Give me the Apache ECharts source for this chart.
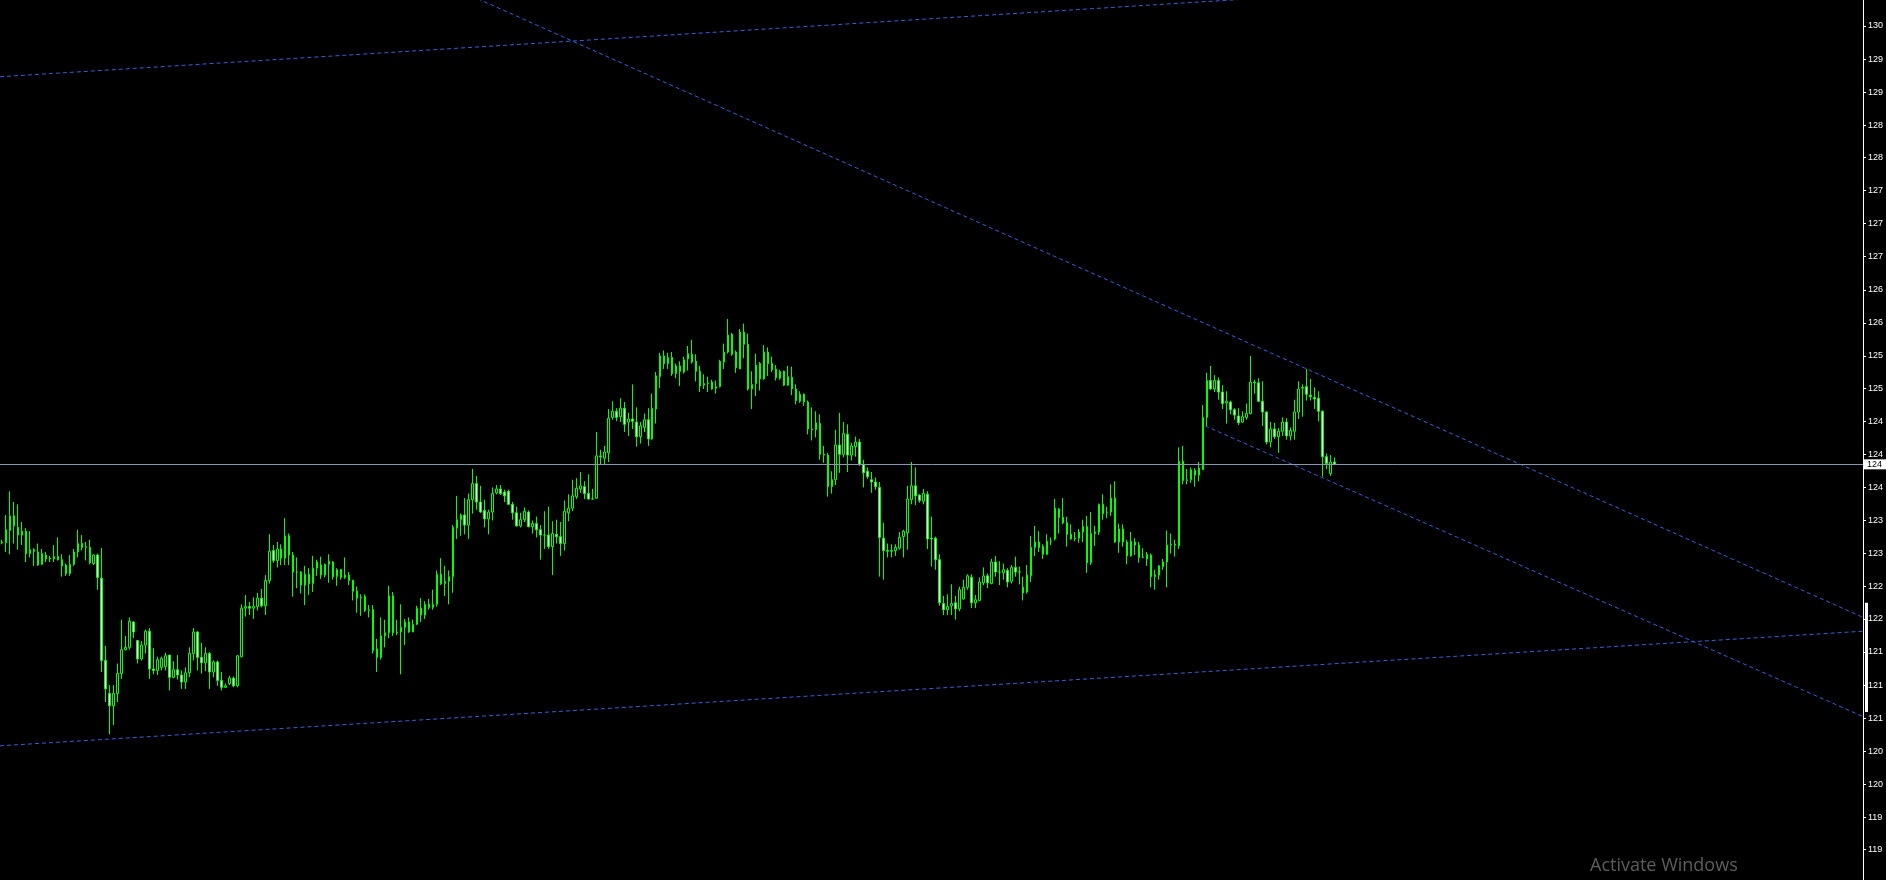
<!DOCTYPE html>
<html><head><meta charset="utf-8">
<script src="https://cdn.jsdelivr.net/npm/echarts@6/dist/echarts.min.js"></script>
<style>html,body{margin:0;padding:0;background:#000;overflow:hidden}#c{width:1886px;height:880px}</style>
</head><body><div id="c"></div>
<script>
// ---- data (bar index = position in arrays) ----
const opens = [
123.35,123.35,123.51,123.70,123.55,123.45,123.50,123.21,123.26,123.23,
123.07,123.19,123.15,123.14,123.17,123.13,123.06,122.95,123.07,123.23,
123.34,123.29,123.29,123.08,123.19,122.89,121.82,121.39,121.23,121.39,
121.65,121.96,121.99,122.32,122.08,121.84,122.02,122.20,121.71,121.69,
121.73,121.74,121.89,121.60,121.70,121.63,121.54,121.66,121.91,122.19,
121.86,121.79,121.91,121.67,121.80,121.56,121.47,121.52,121.59,121.49,
121.87,122.50,122.52,122.50,122.52,122.63,122.53,122.86,123.25,123.12,
123.27,123.15,123.44,123.19,122.97,122.97,122.80,122.94,122.82,123.02,
123.06,122.93,123.07,123.10,122.91,123.00,122.90,122.93,122.86,122.72,
122.63,122.65,122.47,122.48,121.97,121.86,122.14,122.18,122.66,122.18,
122.19,122.25,122.32,122.19,122.29,122.50,122.41,122.55,122.51,122.55,
122.94,122.82,122.85,122.91,123.54,123.65,123.71,123.58,123.91,124.12,
123.88,123.77,123.66,123.75,124.00,124.05,124.01,124.02,123.85,123.74,
123.57,123.65,123.75,123.56,123.60,123.52,123.45,123.45,123.30,123.46,
123.43,123.34,123.74,123.80,123.95,124.05,124.08,123.99,123.92,123.93,
124.48,124.45,124.52,124.98,125.06,124.99,125.10,124.92,124.96,124.92,
124.73,124.85,124.95,124.70,125.09,125.51,125.78,125.68,125.76,125.55,
125.65,125.57,125.74,125.80,125.71,125.58,125.40,125.42,125.44,125.36,
125.38,125.70,125.83,126.06,125.83,125.61,126.09,125.93,125.35,125.42,
125.68,125.48,125.83,125.68,125.61,125.49,125.58,125.40,125.50,125.35,
125.19,125.28,125.18,124.83,124.82,124.90,124.50,124.49,124.08,124.17,
124.62,124.50,124.76,124.49,124.60,124.66,124.37,124.28,124.17,124.14,
124.07,123.41,123.25,123.24,123.25,123.28,123.43,123.48,123.91,124.09,
123.97,123.89,123.98,123.41,123.41,123.13,122.56,122.48,122.53,122.57,
122.49,122.62,122.77,122.90,122.57,122.60,122.83,122.92,122.82,123.10,
122.97,122.96,122.99,122.85,123.03,122.97,122.77,122.71,122.92,123.29,
123.36,123.30,123.20,123.37,123.40,123.79,123.68,123.61,123.46,123.40,
123.41,123.49,123.56,123.09,123.47,123.49,123.85,123.74,123.75,123.93,
123.36,123.53,123.36,123.18,123.36,123.32,123.16,123.14,123.19,122.91,
122.93,123.04,123.10,123.32,123.33,123.31,124.41,124.16,124.17,124.29,
124.23,124.30,124.98,125.46,125.35,125.46,125.31,125.17,125.18,125.08,
125.00,124.92,124.98,125.03,125.44,125.43,125.19,125.05,124.66,124.83,
124.73,124.80,124.92,124.74,124.80,125.05,125.36,125.38,125.27,125.24,
125.23,125.06,124.47,124.25,124.40];
const closes = [
123.36,123.52,123.70,123.57,123.45,123.50,123.21,123.26,123.24,123.06,
123.21,123.14,123.14,123.17,123.13,123.05,122.95,123.07,123.23,123.34,
123.29,123.30,123.09,123.19,122.90,121.82,121.45,121.23,121.39,121.65,
121.96,121.99,122.33,122.19,121.84,122.02,122.20,121.71,121.69,121.83,
121.85,121.88,121.60,121.70,121.63,121.54,121.66,121.91,122.19,121.86,
121.79,121.91,121.67,121.80,121.56,121.47,121.49,121.59,121.49,121.88,
122.50,122.52,122.50,122.52,122.63,122.53,122.86,123.24,123.12,123.27,
123.15,123.44,123.19,122.97,122.97,122.80,122.94,122.82,123.02,123.10,
122.93,123.07,123.11,122.91,123.00,122.90,122.93,122.86,122.72,122.63,
122.64,122.47,122.48,121.95,121.86,122.14,122.18,122.66,122.18,122.19,
122.25,122.32,122.19,122.29,122.50,122.41,122.55,122.51,122.55,122.94,
122.82,122.85,122.91,123.55,123.65,123.71,123.58,123.91,124.12,123.88,
123.75,123.66,123.75,123.99,124.05,123.99,123.96,123.85,123.74,123.57,
123.65,123.76,123.56,123.60,123.52,123.45,123.45,123.30,123.47,123.43,
123.34,123.76,123.80,123.96,124.06,124.09,123.99,123.92,123.92,124.48,
124.47,124.53,124.97,125.06,124.98,125.10,124.89,124.96,124.93,124.73,
124.87,124.95,124.70,125.10,125.52,125.78,125.68,125.76,125.55,125.65,
125.58,125.73,125.81,125.70,125.58,125.39,125.42,125.43,125.35,125.38,
125.71,125.83,126.05,125.80,125.63,126.09,125.93,125.35,125.41,125.66,
125.48,125.83,125.68,125.60,125.50,125.58,125.40,125.51,125.35,125.20,
125.28,125.18,124.83,124.82,124.91,124.50,124.49,124.08,124.17,124.62,
124.50,124.77,124.49,124.61,124.66,124.37,124.26,124.21,124.14,124.08,
123.42,123.25,123.24,123.25,123.29,123.42,123.50,123.92,124.09,123.96,
123.90,123.99,123.40,123.40,123.13,122.57,122.48,122.52,122.56,122.49,
122.74,122.77,122.92,122.57,122.61,122.84,122.92,122.83,123.10,122.97,
122.97,123.00,122.84,123.03,122.97,122.97,122.70,122.93,123.29,123.36,
123.29,123.20,123.37,123.37,123.80,123.68,123.61,123.46,123.40,123.41,
123.49,123.56,123.09,123.47,123.49,123.85,123.73,123.74,123.93,123.36,
123.53,123.36,123.18,123.37,123.32,123.16,123.16,123.20,122.91,122.93,
123.05,123.10,123.32,123.33,123.32,124.41,124.16,124.17,124.30,124.23,
124.32,124.98,125.46,125.35,125.46,125.31,125.16,125.19,125.08,125.01,
124.91,124.99,125.03,125.44,125.43,125.19,125.05,124.66,124.83,124.73,
124.80,124.92,124.74,124.81,125.05,125.35,125.37,125.28,125.25,125.22,
125.06,124.47,124.38,124.40,124.37];
const lows = [
123.33,123.23,123.20,123.34,123.26,123.32,123.10,123.16,123.05,123.05,
123.06,123.10,123.10,123.10,123.12,122.91,122.92,122.92,123.05,123.16,
123.25,123.12,123.07,123.06,122.74,121.67,121.28,120.86,120.98,121.28,
121.58,121.95,121.96,122.11,121.78,121.82,121.91,121.58,121.64,121.63,
121.69,121.69,121.43,121.59,121.57,121.45,121.45,121.60,121.82,121.69,
121.65,121.68,121.45,121.60,121.49,121.43,121.46,121.50,121.47,121.47,
121.86,122.39,122.41,122.36,122.47,122.51,122.41,122.82,123.09,123.03,
123.06,123.06,123.06,122.65,122.76,122.69,122.54,122.67,122.71,122.92,
122.88,122.90,122.83,122.87,122.79,122.87,122.88,122.80,122.60,122.44,
122.40,122.45,122.38,121.91,121.67,121.83,121.99,122.11,122.14,122.15,
121.64,122.02,122.18,122.19,122.28,122.32,122.36,122.48,122.48,122.52,
122.80,122.66,122.55,122.70,123.40,123.44,123.46,123.40,123.73,123.78,
123.74,123.55,123.46,123.64,123.98,123.97,123.88,123.84,123.65,123.56,
123.55,123.62,123.55,123.47,123.42,123.13,123.27,123.27,122.93,123.34,
123.18,123.25,123.63,123.76,123.92,124.00,123.92,123.91,123.91,123.92,
124.37,124.37,124.40,124.95,124.93,124.92,124.79,124.74,124.83,124.60,
124.64,124.79,124.61,124.69,124.90,125.36,125.61,125.61,125.52,125.49,
125.39,125.55,125.59,125.68,125.45,125.31,125.35,125.31,125.34,125.29,
125.37,125.61,125.81,125.78,125.56,125.61,125.75,125.33,125.09,125.26,
125.33,125.47,125.52,125.57,125.46,125.47,125.39,125.39,125.27,125.15,
125.17,125.13,124.76,124.68,124.72,124.43,124.39,123.95,123.99,124.10,
124.26,124.46,124.27,124.42,124.47,124.35,124.07,124.18,124.00,124.04,
122.91,122.87,123.16,123.16,123.18,123.26,123.16,123.26,123.85,123.84,
123.87,123.85,123.27,123.04,123.00,122.53,122.41,122.41,122.41,122.35,
122.46,122.61,122.74,122.50,122.50,122.59,122.80,122.76,122.81,122.91,
122.80,122.87,122.77,122.82,122.91,122.81,122.60,122.69,122.84,123.18,
123.23,123.14,123.19,123.32,123.38,123.47,123.59,123.30,123.39,123.37,
123.35,123.36,122.96,123.06,123.31,123.45,123.65,123.67,123.70,123.35,
123.22,123.30,123.07,123.17,123.19,123.09,123.15,123.05,122.77,122.74,
122.87,123.00,122.77,123.21,123.17,123.27,124.11,124.11,124.13,124.08,
124.15,124.30,124.87,125.34,125.31,125.21,125.09,124.90,125.02,124.95,
124.88,124.91,124.95,125.02,125.29,125.18,124.87,124.63,124.59,124.70,
124.52,124.74,124.69,124.68,124.69,124.96,124.99,125.20,125.20,125.09,
124.93,124.21,124.31,124.22,124.36];
const highs = [
123.39,123.71,124.02,123.88,123.85,123.62,123.54,123.50,123.28,123.34,
123.27,123.23,123.18,123.32,123.42,123.20,123.08,123.19,123.27,123.52,
123.45,123.36,123.39,123.20,123.21,123.28,122.01,121.50,121.50,121.78,
122.35,122.14,122.38,122.33,122.08,122.07,122.22,122.24,121.98,121.87,
121.87,121.92,121.89,121.81,121.89,121.69,121.73,121.99,122.24,122.20,
122.05,121.99,121.93,121.82,121.82,121.67,121.52,121.62,121.61,121.89,
122.55,122.67,122.58,122.64,122.70,122.75,122.93,123.46,123.32,123.36,
123.33,123.67,123.47,123.23,123.16,122.98,123.05,123.02,123.18,123.13,
123.17,123.08,123.20,123.11,123.02,123.01,123.16,122.97,122.87,122.78,
122.68,122.68,122.54,122.54,122.10,122.38,122.35,122.79,122.71,122.35,
122.55,122.36,122.38,122.35,122.53,122.63,122.59,122.62,122.74,122.99,
123.15,123.05,122.99,123.58,123.96,123.73,123.93,123.99,124.31,124.22,
124.09,123.91,123.78,124.07,124.10,124.10,124.04,124.04,123.88,123.82,
123.74,123.81,123.77,123.64,123.69,123.58,123.76,123.82,123.63,123.65,
123.62,123.90,123.98,124.17,124.19,124.27,124.15,124.24,124.05,124.79,
124.56,124.61,125.09,125.19,125.10,125.23,125.18,125.04,125.41,125.11,
124.92,125.03,125.10,125.29,125.57,125.82,125.85,125.82,125.83,125.68,
125.71,125.77,125.91,125.99,125.80,125.65,125.54,125.51,125.47,125.46,
125.73,125.94,126.26,126.08,125.85,126.13,126.20,126.07,125.58,125.81,
125.70,125.92,125.89,125.77,125.66,125.60,125.59,125.65,125.64,125.41,
125.32,125.29,125.20,125.11,125.06,125.02,124.61,124.52,124.28,124.82,
125.04,124.92,124.89,124.65,124.73,124.70,124.43,124.33,124.27,124.20,
124.14,123.61,123.34,123.33,123.33,123.49,123.52,124.09,124.40,124.33,
123.98,124.05,124.02,123.69,123.43,123.20,122.66,122.68,122.81,122.66,
122.78,122.87,122.94,122.94,122.67,122.90,123.03,122.95,123.14,123.18,
123.11,123.08,123.02,123.06,123.17,123.04,122.91,123.06,123.44,123.57,
123.50,123.33,123.46,123.42,123.92,123.80,123.93,123.69,123.59,123.49,
123.53,123.65,123.70,123.75,123.57,123.86,123.98,123.82,124.11,124.15,
123.60,123.59,123.39,123.49,123.41,123.36,123.28,123.23,123.21,123.00,
123.06,123.14,123.51,123.47,123.39,124.59,124.61,124.31,124.33,124.32,
124.40,125.14,125.56,125.65,125.53,125.50,125.40,125.32,125.20,125.10,
125.10,125.06,125.16,125.78,125.47,125.49,125.45,125.06,124.92,124.91,
124.84,124.98,124.97,124.85,125.21,125.45,125.41,125.61,125.48,125.37,
125.32,125.07,124.51,124.49,124.46];

const slotCount = 467;               // bar slots on the time axis (incl. empty right margin)
const priceTicks = [130.07,129.64,129.21,128.78,128.36,127.93,127.50,127.07,126.64,126.21,
  125.78,125.36,124.93,124.50,124.07,123.64,123.21,122.78,122.36,121.93,121.50,121.07,
  120.64,120.21,119.78,119.36];
const priceMin = 118.965, priceMax = 130.408;
const lastPrice = 124.37;
const lastPriceLabel = '124';
// trendlines: [barIndex, price]
const trendUpperLeft = [[-0.5, 129.41], [466.5, 130.92]];
const trendDown = [[100, 130.87], [466.5, 122.38]];
const trendSupport = [[-0.5, 120.71], [466.5, 122.20]];
const trendChannel = [[301.6, 124.87], [466.5, 121.09]];
const scrollBand = [122.57, 121.15];
const watermark = 'Activate Windows';

// ---- chart ----
const categories = Array.from({length: slotCount}, (_, i) => String(i));
const candles = opens.map((o, i) => [o, closes[i], lows[i], highs[i]]);
const dashBlue = '#3a5ee0';
function trend(data) {
  return {
    type: 'line', xAxisIndex: 1, yAxisIndex: 0, data: data, symbol: 'none',
    silent: true, clip: true,
    lineStyle: { color: dashBlue, width: 1, type: [4, 3] }
  };
}
const chart = echarts.init(document.getElementById('c'), null, { renderer: 'canvas' });
chart.setOption({
  animation: false,
  backgroundColor: '#000000',
  grid: { left: 0, right: 20, top: 0, bottom: 0, containLabel: false },
  xAxis: [
    { type: 'category', data: categories, boundaryGap: true, show: false },
    { type: 'value', min: -0.5, max: slotCount - 0.5, show: false }
  ],
  yAxis: {
    type: 'value', position: 'right', min: priceMin, max: priceMax, scale: true,
    axisLine: { show: true, onZero: false, lineStyle: { color: '#ffffff', width: 1 } },
    axisTick: { show: true, length: 3, lineStyle: { color: '#ffffff' }, customValues: priceTicks },
    axisLabel: {
      show: true, color: '#ffffff', fontSize: 9, fontFamily: 'Liberation Sans', margin: 5,
      customValues: priceTicks,
      formatter: v => String(Math.floor(v + 1e-9))
    },
    splitLine: { show: false }
  },
  series: [
    {
      type: 'candlestick', data: candles, barWidth: 2,
      itemStyle: {
        color: '#000000', color0: '#ffffff',
        borderColor: '#00ff00', borderColor0: '#00ff00', borderColorDoji: '#00ff00',
        borderWidth: 1
      },
      markLine: {
        silent: true, symbol: 'none', animation: false,
        data: [{ yAxis: lastPrice }],
        lineStyle: { color: '#8697b0', width: 1, type: 'solid' },
        label: {
          show: true, position: 'end', distance: 1, formatter: lastPriceLabel,
          color: '#000000', backgroundColor: '#ffffff', fontSize: 9,
          fontFamily: 'Liberation Sans', padding: [1, 4, 0, 3]
        }
      }
    },
    trend(trendUpperLeft),
    trend(trendDown),
    trend(trendSupport),
    trend(trendChannel)
  ]
});
const yA = chart.convertToPixel({ yAxisIndex: 0 }, scrollBand[0]);
const yB = chart.convertToPixel({ yAxisIndex: 0 }, scrollBand[1]);
const axisX = chart.getWidth() - 20;
chart.setOption({
  graphic: [
    { type: 'rect', shape: { x: axisX - 1, y: yA, width: 3, height: yB - yA }, style: { fill: '#ffffff' }, silent: true },
    { type: 'text', left: 1590, top: 857, style: { text: watermark, fill: '#5e5e5e', font: '18px "Open Sans"' }, silent: true }
  ]
});
</script></body></html>
